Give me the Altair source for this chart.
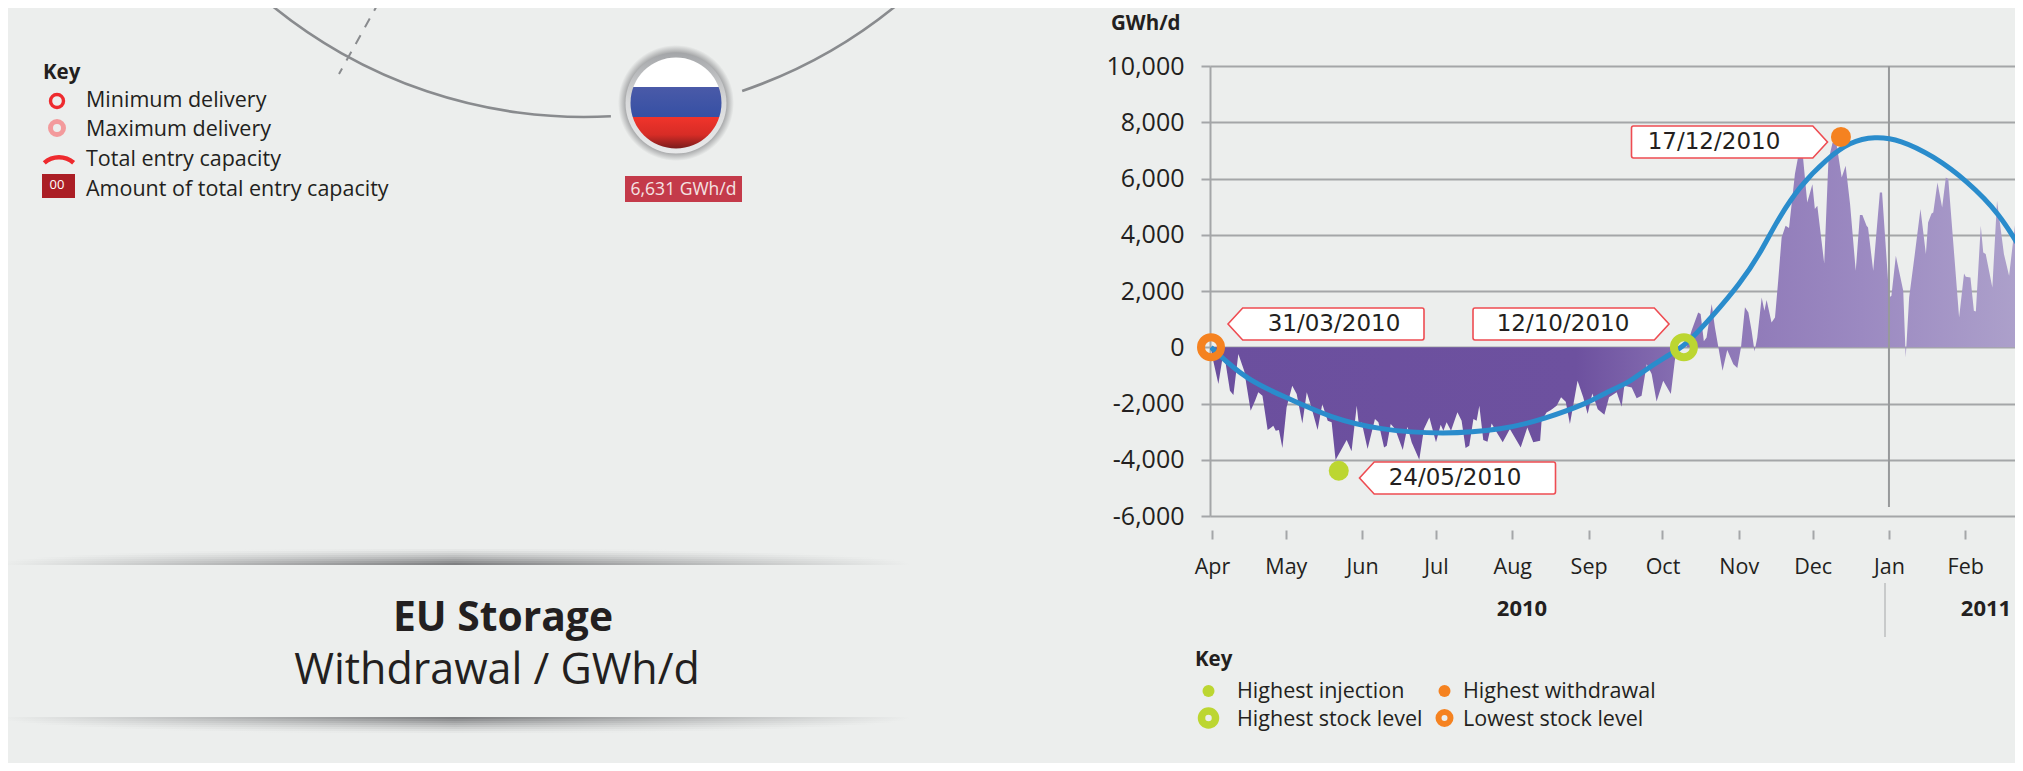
import altair as alt
import pandas as pd

# ---------- data ----------
BASE = pd.Timestamp("2010-04-01", tz="UTC")
DAY_MS = 86400000

stock_days = [-0.4, 14.2, 31.7, 48, 68, 94, 118, 135.5, 153, 157.6, 170.6, 172.6, 184.8, 191.7, 203.5,
              214.5, 222.6, 229.5, 238.8, 249.8, 259, 269.3, 279.5, 292.9, 306.7, 320, 329.4]
stock_values = [0, -1190, -1840, -2500, -2940, -3100, -2940, -2540, -1970, -1720, -1190, -1010, -300, 0, 1120,
                2260, 3320, 4500, 5740, 6700, 7300, 7500, 7380, 6810, 5920, 4750, 3360]

flow_days = [-0.4, 0.5, 2.6, 4.2, 5.6, 7.3, 8.7, 10.7, 13.1, 15.7, 17.5, 18.8, 20.5, 22.6, 23.8, 24.9, 25.9, 27.2,
             28.6, 30.3, 32.6, 34.4, 36.7, 38.5, 40.2, 42.9, 44.8, 47, 48.6, 50.2, 52.7, 54.7, 56.7, 58.8, 59.7,
             60.8, 63.2, 66.2, 67.6, 69.9, 71, 72.6, 74.4, 77.5, 79.4, 81.1, 84.2, 86.1, 88.3, 91, 92.9, 94, 95.3,
             97.1, 99.7, 101.4, 103, 104.5, 106.2, 107.5, 108.6, 110.2, 111.9, 113.6, 115.7, 118.1, 121, 125.4,
             128.1, 130.5, 133.3, 133.9, 135.9, 137.7, 140, 141.8, 143.7, 145.4, 148.5, 150.8, 152.6, 154.5, 156.7,
             159.4, 161.3, 164.4, 166.4, 167.5, 170.5, 172.5, 174.5, 176.6, 178.6, 180.6, 183.3, 186.4, 188, 189.1,
             192.8, 194.8, 197.5, 198.5, 199.8, 200.9, 203, 204.3, 205.7, 207.4, 209.3, 211.8, 213.4, 214.9, 216.5,
             217.9, 219.2, 220.4, 221.5, 223.3, 224.4, 225.3, 227.3, 228.7, 230, 231.4, 233, 234.4, 236.8, 238.8,
             239.9, 241.8, 243.9, 244.9, 245.9, 247.6, 248.7, 250.4, 252.1, 253.7, 255.8, 257.4, 259.2, 261.5,
             263.2, 264.2, 265.9, 266.5, 268.6, 271.3, 272.2, 275.1, 276, 277.8, 280.8, 281.8, 283.2, 285.5, 287.8,
             290, 290.9, 292.3, 293, 294.7, 296.6, 298.1, 299.1, 303.5, 305.5, 306.2, 308.1, 309.5, 310.3, 312.3,
             313.3, 314.3, 317, 318.9, 321.7, 323.8, 326.4, 328.2, 329.4]
flow_values = [0, -480, -1310, -420, -600, -1550, -1700, -240, -840, -2260, -1900, -1600, -1720, -2945, -2874, -2790,
               -2970, -2945, -3585, -2140, -1370, -1665, -2710, -1600, -2080, -2945, -2020, -2613, -2670, -4010, -3620,
               -3300, -3700, -2080, -2790, -2670, -3620, -2550, -2670, -3560, -3500, -2730, -2910, -3650, -2830, -3380,
               -4000, -2910, -2500, -3380, -2755, -2970, -2670, -2970, -2315, -2610, -3585, -3500, -2550, -2610, -2080,
               -3300, -3360, -2710, -3030, -3380, -2910, -3560, -2850, -3380, -3320, -2613, -2317, -2234, -2080, -1780,
               -1940, -2730, -1190, -1780, -2375, -1640, -2200, -2400, -1780, -1600, -2115, -1370, -1430, -1810, -1725,
               -600, -954, -1925, -1190, -1665, -480, 0, 0, 590, 1240, 1180, 210, 350, 1535, 700, 0, -835, -100, -600,
               -740, 0, 1420, 1240, 590, -150, 350, 1770, 1300, 1680, 880, 1060, 2365, 3905, 4320, 4240, 6157, 7105,
               6927, 5150, 5800, 4913, 5030, 3787, 2980, 6630, 7283, 7223, 6040, 6453, 5090, 2720, 4700, 4700, 4320,
               4260, 2720, 5505, 5505, 1770, 1830, 3254, 2010, -360, 1770, 3313, 4913, 3313, 4440, 4760, 4795, 5860,
               4972, 6040, 5980, 1060, 2626, 2507, 2483, 1300, 1275, 4320, 3372, 3313, 2128, 5209, 3313, 2543, 4498,
               4520, 3432]

month_starts = ["2010-04-01", "2010-05-01", "2010-06-01", "2010-07-01", "2010-08-01", "2010-09-01",
                "2010-10-01", "2010-11-01", "2010-12-01", "2011-01-01", "2011-02-01"]
y_ticks = [-6000, -4000, -2000, 0, 2000, 4000, 6000, 8000, 10000]

marker_days = [-0.4, 51.5, 191.7, 255.5]
marker_values = [0, -4390, 0, 7480]

# ---------- styling ----------
BG = "#eceeed"
INK = "#231f20"
GRID = "#a4a6a8"
GREEN = "#bcd631"
ORANGE = "#f58220"
BLUE = "#2a8ccc"
CALLOUT = "#ee4c52"
FONT = "Open Sans"

PAGE_X, PAGE_Y = 1210, 66     # where the plot area sits in the picture
W, H = 805, 450               # plot area runs to the page's right margin
END_DAY = 326.2


def ms(day):
    return int(BASE.timestamp() * 1000 + day * DAY_MS)


def date_ms(s):
    return int(pd.Timestamp(s, tz="UTC").timestamp() * 1000)


def at(x, y):
    return dict(x=alt.value(x - PAGE_X), y=alt.value(y - PAGE_Y))


def label(txt, x, y, size=21.5, bold=False, color=INK, align="left", font=FONT):
    return alt.Chart(one).mark_text(text=txt, fontSize=size, font=font, fontWeight="bold" if bold else "normal",
                                    color=color, align=align, baseline="middle").encode(**at(x, y))


def dot(x, y, d, **kw):
    return alt.Chart(one).mark_point(size=d * d, shape="circle", opacity=1, **kw).encode(**at(x, y))


one = pd.DataFrame({"a": [0]})
flow = pd.DataFrame({"date": [ms(d) for d in flow_days], "value": flow_values})
stock = pd.DataFrame({"date": [ms(d) for d in stock_days], "value": stock_values})
markers = pd.DataFrame({"date": [ms(d) for d in marker_days], "value": marker_values})
new_year = pd.DataFrame({"date": [date_ms("2011-01-01")]})

x_enc = alt.X("date:T", title=None, scale=alt.Scale(type="utc", domain=[ms(-0.81), ms(END_DAY)]),
              axis=alt.Axis(values=[date_ms(m) for m in month_starts], format="%b", domain=False, grid=False,
                            ticks=True, tickSize=9, tickWidth=2, tickColor=GRID, offset=14, labelFontSize=21.5,
                            labelFont=FONT, labelColor=INK, labelPadding=17, labelOverlap=False, labelBound=False,
                            labelFlush=False, labelAngle=0))
y_enc = alt.Y("value:Q", title=None, stack=None, scale=alt.Scale(domain=[-6000, 10000], nice=False),
              axis=alt.Axis(values=y_ticks, grid=True, gridColor=GRID, gridWidth=2, domainColor=GRID,
                            labelExpr="(datum.value < 0 ? '-' : '') + format(abs(datum.value), ',.0f')",
                            domainWidth=2, tickColor=GRID, tickWidth=2, tickSize=9, labelFontSize=25, labelFont=FONT,
                            labelColor=INK, labelPadding=17, labelOverlap=False, labelBound=False, labelFlush=False))

area_fill = {"gradient": "linear", "x1": 0, "x2": 1, "y1": 0, "y2": 0,
             "stops": [{"offset": 0, "color": "#6b4f9e"}, {"offset": 0.45, "color": "#6d519f"},
                       {"offset": 0.6, "color": "#8b74b5"}, {"offset": 0.8, "color": "#9b89c1"},
                       {"offset": 1, "color": "#ada1cb"}]}

area = alt.Chart(flow).mark_area(fill=area_fill, interpolate="linear", clip=True).encode(x=x_enc, y=y_enc)
jan_rule = alt.Chart(new_year).mark_rule(color="#97999b", strokeWidth=2).encode(
    x=x_enc, y=alt.value(0), y2=alt.value(441))
stock_line = alt.Chart(stock).mark_line(color=BLUE, strokeWidth=5, interpolate="basis", clip=True).encode(
    x=x_enc, y=y_enc)

rings = [(0, ORANGE), (2, GREEN)]
ring_layers = [alt.Chart(markers.iloc[[i]]).mark_point(shape="circle", filled=False, size=20 * 20, stroke=c,
                                                       strokeWidth=8, opacity=1).encode(x=x_enc, y=y_enc)
               for i, c in rings]
dots = [(1, GREEN), (3, ORANGE)]
dot_layers = [alt.Chart(markers.iloc[[i]]).mark_point(shape="circle", filled=True, size=20 * 20, fill=c, stroke=None,
                                                      opacity=1).encode(x=x_enc, y=y_enc)
              for i, c in dots]

# date call-outs
LEFT_TAG = "M -0.85 -0.163 L 0.98 -0.163 Q 1 -0.163 1 -0.14 L 1 0.14 Q 1 0.163 0.98 0.163 L -0.85 0.163 L -1 0 Z"
RIGHT_TAG = "M 0.85 -0.163 L -0.98 -0.163 Q -1 -0.163 -1 -0.14 L -1 0.14 Q -1 0.163 -0.98 0.163 L 0.85 0.163 L 1 0 Z"


def tag(cx, cy, shape, txt, tx):
    w = 196
    box = alt.Chart(one).mark_point(shape=shape, size=w * w, filled=True, fill="#ffffff", stroke=CALLOUT,
                                    strokeWidth=1.6, opacity=1).encode(**at(cx, cy))
    return [box, label(txt, tx, cy, size=23, align="center", font="DejaVu Sans")]


tags = (tag(1326, 324, LEFT_TAG, "31/03/2010", 1334) + tag(1571, 324, RIGHT_TAG, "12/10/2010", 1563) +
        tag(1729.5, 142, RIGHT_TAG, "17/12/2010", 1714) + tag(1457.5, 478, LEFT_TAG, "24/05/2010", 1455))

# right-hand furniture
right_bits = [
    label("GWh/d", 1111, 24, size=20.5, bold=True),
    label("2010", 1522, 609, size=22, bold=True, align="center"),
    label("2011", 1986, 609, size=22, bold=True, align="center"),
    alt.Chart(one).mark_rule(color="#a4a6a8", strokeWidth=1).encode(
        x=alt.value(1885 - PAGE_X), y=alt.value(583 - PAGE_Y), y2=alt.value(637 - PAGE_Y)),
    label("Key", 1195, 660, size=20.5, bold=True),
    dot(1208.5, 691, 12, filled=True, fill=GREEN, stroke=None),
    dot(1444.5, 691, 12, filled=True, fill=ORANGE, stroke=None),
    dot(1208.5, 718, 14, filled=False, stroke=GREEN, strokeWidth=7.5),
    dot(1444.5, 718, 12, filled=False, stroke=ORANGE, strokeWidth=6),
    label("Highest injection", 1237, 692),
    label("Highest stock level", 1237, 720),
    label("Highest withdrawal", 1463, 692),
    label("Lowest stock level", 1463, 720),
]

# left-hand furniture: network arcs, flag, key, title
CX, CY, R = 584, -376, 493
ARC_GREY = "#898b8e"


def ring_arc(t0, t1):
    return alt.Chart(one).mark_arc(innerRadius=R - 1.3, outerRadius=R + 1.3, theta=t0, theta2=t1,
                                   color=ARC_GREY).encode(**at(CX, CY))


flag_fill = {"gradient": "linear", "x1": 0, "x2": 0, "y1": 0, "y2": 1,
             "stops": [{"offset": 0, "color": "#ffffff"}, {"offset": 0.32, "color": "#ffffff"},
                       {"offset": 0.325, "color": "#4a5aa8"}, {"offset": 0.65, "color": "#3650a4"},
                       {"offset": 0.655, "color": "#f0342b"}, {"offset": 0.85, "color": "#d72c26"},
                       {"offset": 1, "color": "#7a1c1c"}]}
halo_fill = {"gradient": "radial", "x1": 0.5, "y1": 0.5, "x2": 0.5, "y2": 0.5, "r1": 0, "r2": 0.5,
             "stops": [{"offset": 0, "color": "#8a8b8d"}, {"offset": 0.82, "color": "#8f9092"},
                       {"offset": 1, "color": BG}]}
ring_fill = {"gradient": "linear", "x1": 0, "x2": 0, "y1": 0, "y2": 1,
             "stops": [{"offset": 0, "color": "#a3a5a8"}, {"offset": 0.5, "color": "#dadbdc"},
                       {"offset": 1, "color": "#e8e9ea"}]}

left_bits = [
    ring_arc(3.087, 3.845),
    ring_arc(2.438, 2.815),
    alt.Chart(one).mark_rule(color=ARC_GREY, strokeWidth=2, strokeDash=[10, 9]).encode(
        x=alt.value(379 - PAGE_X), x2=alt.value(339 - PAGE_X), y=alt.value(2 - PAGE_Y), y2=alt.value(74 - PAGE_Y)),
    dot(676, 103, 116, filled=True, fill=halo_fill, stroke=None),
    dot(676, 103, 101, filled=True, fill=ring_fill, stroke=None),
    dot(676, 103, 91, filled=True, fill=flag_fill, stroke=None),
    alt.Chart(one).mark_rect(color="#c43a4a").encode(
        x=alt.value(625 - PAGE_X), x2=alt.value(742 - PAGE_X), y=alt.value(176 - PAGE_Y), y2=alt.value(202 - PAGE_Y)),
    label("6,631 GWh/d", 683.5, 190, size=17.5, color="#f4e3e3", align="center"),
    label("Key", 43, 73, size=20.5, bold=True),
    dot(57, 101, 13, filled=False, stroke="#ee2a2e", strokeWidth=3.4),
    dot(57, 128, 13, filled=False, stroke="#f39a9c", strokeWidth=5),
    alt.Chart(one).mark_arc(innerRadius=20, outerRadius=24.5, theta=5.56, theta2=7.0, color="#ee2a2e").encode(
        **at(59, 179.5)),
    alt.Chart(one).mark_rect(color="#ab1e25").encode(
        x=alt.value(42 - PAGE_X), x2=alt.value(75 - PAGE_X), y=alt.value(174 - PAGE_Y), y2=alt.value(198 - PAGE_Y)),
    label("00", 57, 185, size=13, color="#ffffff", align="center"),
    label("Minimum delivery", 86, 100.5),
    label("Maximum delivery", 86, 129.5),
    label("Total entry capacity", 86, 159.5),
    label("Amount of total entry capacity", 86, 189.5),
    label("EU Storage", 503, 619, size=40.8, bold=True, align="center"),
    label("Withdrawal / GWh/d", 497, 671, size=43, align="center"),
]

# the two lens-shaped shadows round the title
BAND_ROWS = 8


def band(edge, direction):
    rows = []
    for k in range(BAND_ROWS):
        frac = k / BAND_ROWS
        half = 455 * (1 - frac * frac) ** 0.5
        mid = 455
        y0 = edge + direction * 2 * k
        y1 = edge + direction * 2 * (k + 1)
        fill = {"gradient": "linear", "x1": 0, "x2": 1, "y1": 0, "y2": 0,
                "stops": [{"offset": 0, "color": BG}, {"offset": 0.5, "color": "#7f8082"},
                          {"offset": 1, "color": BG}]}
        rows.append(alt.Chart(one).mark_rect(fill=fill, opacity=(1 - frac) ** 1.3).encode(
            x=alt.value(mid - half - PAGE_X), x2=alt.value(mid + half - PAGE_X),
            y=alt.value(min(y0, y1) - PAGE_Y), y2=alt.value(max(y0, y1) - PAGE_Y)))
    return rows


shadow_layers = band(565, -1) + band(717, 1)

chart = alt.layer(
    area, jan_rule, stock_line, *ring_layers, *dot_layers, *tags, *right_bits, *left_bits, *shadow_layers,
).properties(
    width=W, height=H, background=BG,
    padding={"left": PAGE_X - 8, "top": PAGE_Y - 8, "right": 0, "bottom": 771 - 16 - (PAGE_Y - 8) - H},
    autosize=alt.AutoSizeParams(type="none"),
).configure_view(stroke=None)

chart.save("out.html", embed_options={"renderer": "svg", "actions": False})
